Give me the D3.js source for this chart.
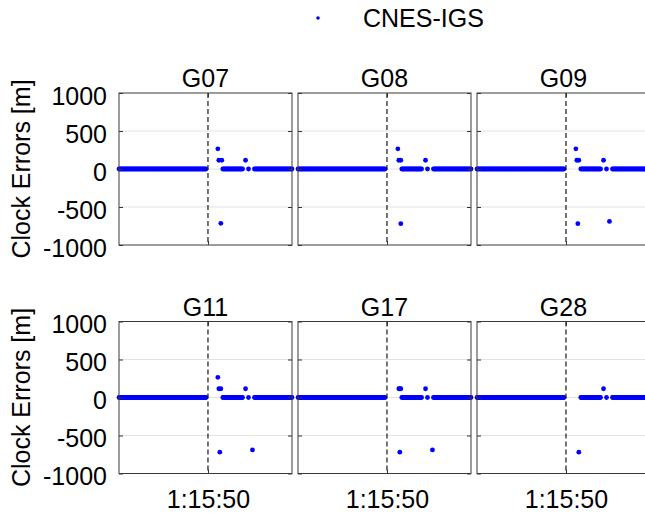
<!DOCTYPE html>
<html>
<head>
<meta charset="utf-8">
<script src="https://cdn.jsdelivr.net/npm/d3@7"></script>
<style>
  body { margin: 0; background: #fff; }
  text { font-family: Arial, "Liberation Sans", Helvetica, sans-serif; fill: #000; }
</style>
</head>
<body>
<div id="chart"></div>
<script>
// epochs are seconds of day, values are clock errors in metres
var satellites = ["G07", "G08", "G09", "G11", "G17", "G28"];
var seriesName = "CNES-IGS";

// stretches of epochs where every satellite sits on 0 m
var zeroSegments = [[4460, 4548], [4565, 4585], [4591, 4591], [4597, 4635]];

// epochs / errors that are off the zero line
var g07Epochs = [4560, 4561, 4564, 4563, 4588];
var g07Errors = [265, 115, 115, -715, 115];
var g08Epochs = [4561, 4562, 4564, 4564, 4589];
var g08Errors = [265, 115, 115, -720, 115];
var g09Epochs = [4560, 4561, 4563, 4562, 4588, 4594];
var g09Errors = [265, 115, 115, -720, 115, -690];
var g11Epochs = [4560, 4561, 4563, 4562, 4588, 4595];
var g11Errors = [265, 115, 115, -720, 115, -690];
var g17Epochs = [4562, 4563, 4564, 4563, 4589, 4596];
var g17Errors = [115, 115, 115, -720, 115, -690];
var g28Epochs = [4588, 4563];
var g28Errors = [115, -720];

var xDomain = [4460, 4635];
var xTicks = [4550];
var xTickLabels = ["1:15:50"];
var yTicks = [1000, 500, 0, -500, -1000];
var yTickLabels = ["1000", "500", "0", "-500", "-1000"];
var yLabel = "Clock Errors [m]";
var markEpoch = 4550;

var outliers = {
  G07: [g07Epochs, g07Errors],
  G08: [g08Epochs, g08Errors],
  G09: [g09Epochs, g09Errors],
  G11: [g11Epochs, g11Errors],
  G17: [g17Epochs, g17Errors],
  G28: [g28Epochs, g28Errors]
};

var width = 645,
    height = 514;
var panelLeft = 119,
    panelStep = 179,
    panelW = 173,
    panelH = 152;
var rowTop = [93, 321.5];
var fontSize = 25;
var dotRadius = 2.4;
var blue = "#0000ff";

var x = d3.scaleLinear().domain(xDomain).range([0, panelW]);
var y = d3.scaleLinear().domain([-1000, 1000]).range([panelH, 0]);

var svg = d3.select("#chart")
  .append("svg")
  .attr("width", width)
  .attr("height", height);

// legend
svg.append("circle")
  .attr("cx", 318)
  .attr("cy", 18)
  .attr("r", 1.8)
  .attr("fill", blue);
svg.append("text")
  .attr("x", 363)
  .attr("y", 27)
  .style("font-size", fontSize + "px")
  .text(seriesName);

satellites.forEach(function(sat, i) {
  var col = i % 3,
      row = Math.floor(i / 3);

  var g = svg.append("g")
    .attr("transform", "translate(" + (panelLeft + col * panelStep) + "," + rowTop[row] + ")");

  // grid
  g.selectAll(".grid")
    .data(yTicks.filter(function(d) { return Math.abs(d) < 1000; }))
    .enter()
    .append("line")
    .attr("x1", 0)
    .attr("x2", panelW)
    .attr("y1", function(d) { return y(d); })
    .attr("y2", function(d) { return y(d); })
    .attr("stroke", "#e2e2e2")
    .attr("stroke-width", 1);

  // points: zero stretches plus the outliers
  var pts = [];
  zeroSegments.forEach(function(s) {
    d3.range(s[0], s[1] + 1).forEach(function(t) { pts.push({t: t, v: 0}); });
  });
  var o = outliers[sat];
  o[0].forEach(function(t, k) { pts.push({t: t, v: o[1][k]}); });

  g.selectAll(".dot")
    .data(pts)
    .enter()
    .append("circle")
    .attr("cx", function(d) { return x(d.t); })
    .attr("cy", function(d) { return y(d.v); })
    .attr("r", dotRadius)
    .attr("fill", blue);

  // vertical dashed marker
  g.append("line")
    .attr("x1", x(markEpoch))
    .attr("x2", x(markEpoch))
    .attr("y1", 0)
    .attr("y2", panelH)
    .attr("stroke", "#1a1a1a")
    .attr("stroke-width", 1.2)
    .attr("stroke-dasharray", "5,3");

  // axes (ticks point inward, like the original)
  var left = g.append("g")
    .call(d3.axisLeft(y).tickValues(yTicks).tickSize(-4).tickPadding(12)
      .tickFormat(function(d, k) { return col === 0 ? yTickLabels[k] : ""; }));
  g.append("g")
    .attr("transform", "translate(" + panelW + ",0)")
    .call(d3.axisRight(y).tickValues(yTicks).tickSize(-4).tickFormat(""));
  g.append("g")
    .attr("transform", "translate(0," + panelH + ")")
    .call(d3.axisBottom(x).tickValues(xTicks).tickSize(-4).tickPadding(16.5)
      .tickFormat(function(d, k) { return row === 1 ? xTickLabels[k] : ""; }));
  g.append("g")
    .call(d3.axisTop(x).tickValues(xTicks).tickSize(-4).tickFormat(""));

  g.selectAll(".domain").remove();
  g.selectAll(".tick line").attr("stroke", "#333");
  g.selectAll(".tick text")
    .attr("fill", "#000")
    .style("font-size", fontSize + "px")
    .style("font-family", "Arial, 'Liberation Sans', sans-serif");
  left.selectAll(".tick text").attr("dy", "0.45em");

  // box
  g.append("rect")
    .attr("width", panelW)
    .attr("height", panelH)
    .attr("fill", "none")
    .attr("stroke", "#3a3a3a")
    .attr("stroke-width", 1);

  // title
  g.append("text")
    .attr("x", panelW / 2)
    .attr("y", -6)
    .attr("text-anchor", "middle")
    .style("font-size", fontSize + "px")
    .text(sat);

  if (col === 0) {
    g.append("text")
      .attr("transform", "translate(" + (30 - panelLeft) + "," + (panelH / 2) + ") rotate(-90)")
      .attr("text-anchor", "middle")
      .style("font-size", fontSize + "px")
      .text(yLabel);
  }
});
</script>
</body>
</html>
